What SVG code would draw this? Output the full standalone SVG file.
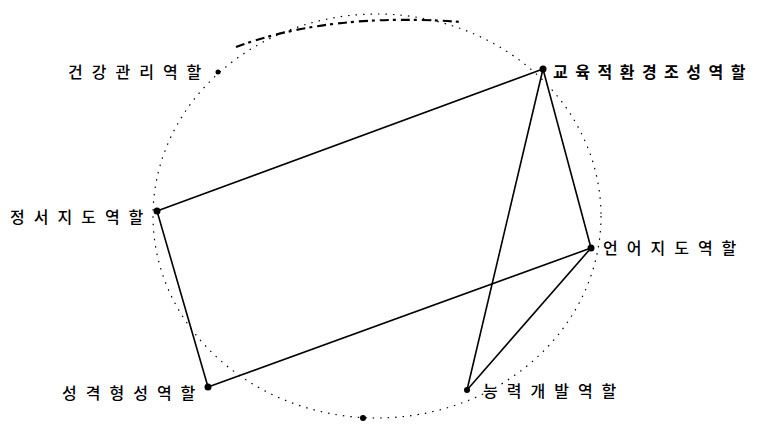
<svg xmlns="http://www.w3.org/2000/svg" width="761" height="425" viewBox="0 0 761 425">
<style>
.lbl{font-family:"Noto Sans CJK KR","Noto Sans",sans-serif;font-size:16px;fill:#000;letter-spacing:9px;font-weight:500}
.lbl.b{letter-spacing:7.5px;font-weight:bold}
.edge{stroke:#000;stroke-width:1.6;fill:none}
.dot{fill:#000}
.circ{stroke:#000;stroke-width:1.2;fill:none;stroke-dasharray:1.5 6}
.arc{stroke:#000;stroke-width:2.2;fill:none;stroke-dasharray:9 4 3 5}
</style>
<rect width="761" height="425" fill="#fff"/>
<g id="circle">
<ellipse class="circ" cx="377" cy="216" rx="224" ry="202"/>
<path class="arc" d="M236,47 Q330,12 462,22"/>
<circle class="dot" cx="363" cy="418" r="3"/>
</g>
<g id="connectors">
<line class="edge" x1="157" y1="211" x2="543" y2="69"/>
<line class="edge" x1="157" y1="211" x2="208" y2="387"/>
<line class="edge" x1="208" y1="387" x2="591" y2="248"/>
<line class="edge" x1="591" y1="248" x2="543" y2="69"/>
<line class="edge" x1="543" y1="69" x2="467" y2="390"/>
<line class="edge" x1="467" y1="390" x2="591" y2="248"/>
</g>
<g id="n-health"><circle class="dot" cx="218" cy="72" r="2.5"/><text class="lbl" x="68" y="78">건강관리역할</text></g>
<g id="n-edu"><circle class="dot" cx="543" cy="69" r="3.5"/><text class="lbl b" x="553" y="78">교육적환경조성역할</text></g>
<g id="n-emotion"><circle class="dot" cx="157" cy="211" r="3.5"/><text class="lbl" x="10" y="223">정서지도역할</text></g>
<g id="n-lang"><circle class="dot" cx="591" cy="248" r="3.5"/><text class="lbl" x="603" y="254">언어지도역할</text></g>
<g id="n-char"><circle class="dot" cx="208" cy="387" r="3.5"/><text class="lbl" x="62" y="399">성격형성역할</text></g>
<g id="n-ability"><circle class="dot" cx="467" cy="390" r="3"/><text class="lbl" x="483" y="397">능력개발역할</text></g>
</svg>
